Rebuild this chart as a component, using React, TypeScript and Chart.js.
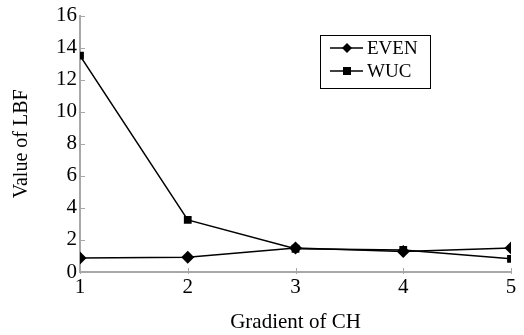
import React, { useEffect, useRef } from "react";
import { Chart, registerables } from "chart.js";

Chart.register(...registerables);

const categories = [1, 2, 3, 4, 5];
const evenValues = [0.88, 0.92, 1.5, 1.28, 1.5];
const wucValues = [13.5, 3.25, 1.45, 1.38, 0.82];
const yTicks = [0, 2, 4, 6, 8, 10, 12, 14, 16];
const seriesNames = ["EVEN", "WUC"];
const xTitle = "Gradient of CH";
const yTitle = "Value of LBF";

const FONT = "'Liberation Serif', 'DejaVu Serif', serif";
const AXIS_GRAY = "#a8a8a8";

const innerTicks = {
  id: "innerTicks",
  afterDraw(chart: any) {
    const ctx = chart.ctx;
    const x = chart.scales.x;
    const y = chart.scales.y;
    const area = chart.chartArea;
    ctx.save();
    ctx.strokeStyle = AXIS_GRAY;
    ctx.lineWidth = 1;
    y.ticks.forEach((t: any) => {
      const py = Math.round(y.getPixelForValue(t.value)) + 0.5;
      ctx.beginPath();
      ctx.moveTo(area.left, py);
      ctx.lineTo(area.left + 5, py);
      ctx.stroke();
    });
    x.ticks.forEach((t: any) => {
      const px = Math.round(x.getPixelForValue(t.value)) + 0.5;
      ctx.beginPath();
      ctx.moveTo(px, area.bottom - 4);
      ctx.lineTo(px, area.bottom + 2);
      ctx.stroke();
    });
    ctx.restore();
  },
};

const customLegend = {
  id: "customLegend",
  afterDraw(chart: any) {
    const ctx = chart.ctx;
    const bx = 320, by = 35, bw = 110, bh = 53;
    ctx.save();
    ctx.strokeStyle = "#000";
    ctx.lineWidth = 1;
    ctx.strokeRect(bx + 0.5, by + 0.5, bw, bh);
    const rows = [48, 71];
    chart.data.datasets.forEach((ds: any, i: number) => {
      const yy = rows[i];
      ctx.beginPath();
      ctx.lineWidth = 1.5;
      ctx.moveTo(330, yy);
      ctx.lineTo(363, yy);
      ctx.stroke();
      ctx.fillStyle = "#000";
      if (ds.pointStyle === "rectRot") {
        ctx.beginPath();
        ctx.moveTo(347, yy - 5);
        ctx.lineTo(352, yy);
        ctx.lineTo(347, yy + 5);
        ctx.lineTo(342, yy);
        ctx.closePath();
        ctx.fill();
      } else {
        ctx.fillRect(343, yy - 4, 8, 8);
      }
      ctx.font = `19px ${FONT}`;
      ctx.textBaseline = "middle";
      ctx.textAlign = "left";
      ctx.fillText(ds.label, 367, yy + 1);
    });
    ctx.restore();
  },
};

export default function App() {
  const ref = useRef<HTMLCanvasElement>(null);
  useEffect(() => {
    document.body.style.margin = "0";
    const chart = new Chart(ref.current!, {
      type: "line",
      data: {
        datasets: [
          {
            label: seriesNames[0],
            data: categories.map((c, i) => ({ x: c, y: evenValues[i] })),
            borderColor: "#000",
            backgroundColor: "#000",
            borderWidth: 1.5,
            pointStyle: "rectRot",
            pointRadius: 6.5,
            pointBorderWidth: 0,
          },
          {
            label: seriesNames[1],
            data: categories.map((c, i) => ({ x: c, y: wucValues[i] })),
            borderColor: "#000",
            backgroundColor: "#000",
            borderWidth: 1.5,
            pointStyle: "rect",
            pointRadius: 5.5,
            pointBorderWidth: 0,
          },
        ],
      },
      options: {
        animation: false,
        responsive: false,
        layout: { padding: { top: 15, right: 13, left: 10, bottom: 0 } },
        plugins: { legend: { display: false }, tooltip: { enabled: false } },
        scales: {
          x: {
            type: "linear",
            min: 1,
            max: 5,
            afterBuildTicks: (s: any) => {
              s.ticks = categories.map((v) => ({ value: v }));
            },
            afterFit: (s: any) => {
              s.height = 63;
            },
            grid: { display: false, drawTicks: false },
            border: { display: true, color: AXIS_GRAY, width: 2 },
            ticks: {
              color: "#000",
              font: { family: FONT, size: 21 },
              padding: 3,
            },
            title: {
              display: true,
              text: xTitle,
              color: "#000",
              font: { family: FONT, size: 21 },
              padding: { top: 5, bottom: 0 },
            },
          },
          y: {
            type: "linear",
            min: 0,
            max: 16,
            afterBuildTicks: (s: any) => {
              s.ticks = yTicks.map((v) => ({ value: v }));
            },
            afterFit: (s: any) => {
              s.width = 70;
            },
            grid: { display: false, drawTicks: false },
            border: { display: true, color: AXIS_GRAY, width: 2 },
            ticks: {
              color: "#000",
              font: { family: FONT, size: 21 },
              padding: 3,
            },
            title: {
              display: true,
              text: yTitle,
              color: "#000",
              font: { family: FONT, size: 20 },
              padding: { top: 0, bottom: 4 },
            },
          },
        },
      },
      plugins: [innerTicks, customLegend],
    });
    return () => chart.destroy();
  }, []);
  return (
    <div style={{ position: "absolute", left: 0, top: 0, width: 524, height: 335, background: "#fff" }}>
      <canvas ref={ref} width={524} height={335} style={{ display: "block" }} />
    </div>
  );
}
